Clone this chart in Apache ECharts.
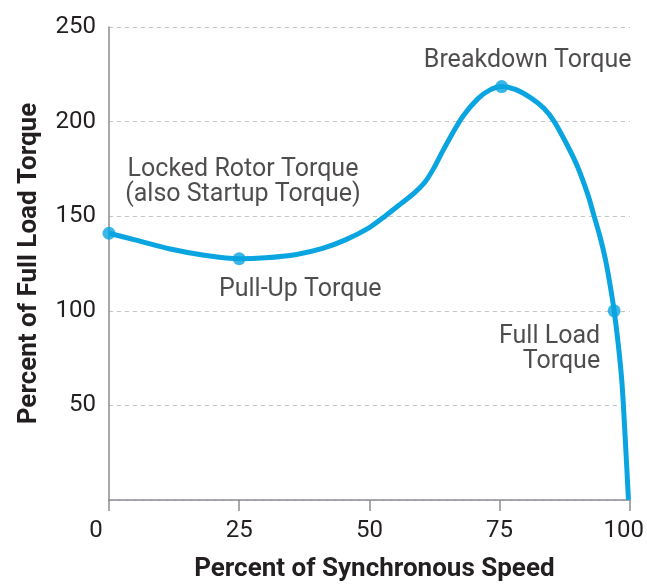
<!DOCTYPE html>
<html>
<head>
<meta charset="utf-8">
<script src="https://cdn.jsdelivr.net/npm/echarts@6/dist/echarts.min.js"></script>
<style>
  html, body { margin: 0; padding: 0; background: #fff; }
  #chart { width: 647px; height: 587px; }
</style>
</head>
<body>
<div id="chart"></div>
<script>
// torque curve
const speed = [0, 5, 12, 18, 25, 30, 36, 41, 45.4, 50, 53, 56, 58.7, 60.8, 62.5, 64, 66, 68, 70.8, 73, 75.4, 78, 81, 83.5, 85.5, 88, 90, 92, 93, 94.3, 95.3, 96.2, 97, 97.8, 98.5, 99.1, 99.75]
const torque = [141, 137.5, 132.5, 129.5, 127.5, 128, 129.8, 133, 137.5, 144, 150, 156.5, 162.5, 168.5, 176, 184, 194, 203, 212, 216.5, 218.5, 217, 212.5, 207, 200, 187.5, 176, 161, 151.5, 139, 127.5, 114, 100, 82, 62, 34, 0]

// marked points
const pointNames = ['Locked Rotor Torque\n(also Startup Torque)', 'Pull-Up Torque', 'Breakdown Torque', 'Full Load\nTorque']
const pointSpeed = [0, 25, 75.4, 97]
const pointTorque = [141, 127.5, 218.5, 100]

const xTicks = [0, 25, 50, 75, 100]
const yTicks = [0, 50, 100, 150, 200, 250]

const blue = '#0aa5e1'
const font = 'Roboto'
const ink = '#231f20'

const chart = echarts.init(document.getElementById('chart'))

const labelPlace = [
  { align: 'center', offset: [134, -51] },
  { align: 'center', offset: [61, 31] },
  { align: 'center', offset: [26, -26] },
  { align: 'right', offset: [-14, 38] }
]

const option = {
  animation: false,
  grid: { left: 109, right: 14, top: 27, bottom: 85 },
  xAxis: {
    type: 'value',
    min: xTicks[0],
    max: xTicks[xTicks.length - 1],
    interval: 25,
    name: 'Percent of Synchronous Speed',
    nameLocation: 'middle',
    nameGap: 56,
    nameTextStyle: { fontFamily: font, fontWeight: 'bold', fontSize: 26, color: ink, padding: [0, 0, 0, 10] },
    axisLine: { lineStyle: { color: '#8a8d91', width: 1.5 } },
    axisTick: { show: true, length: 11, lineStyle: { color: '#8a8d91', width: 1.5 } },
    axisLabel: {
      margin: 19,
      fontFamily: font,
      fontSize: 24,
      color: ink,
      formatter: function (v) {
        if (v === 0) return '{z|0}'
        if (v === 100) return '{h|100}'
        return v
      },
      rich: {
        z: { fontFamily: font, fontSize: 24, color: ink, padding: [0, 26, 0, 0] },
        h: { fontFamily: font, fontSize: 24, color: ink, padding: [0, 12, 0, 0] }
      }
    },
    splitLine: { show: false }
  },
  yAxis: {
    type: 'value',
    min: yTicks[0],
    max: yTicks[yTicks.length - 1],
    interval: 50,
    name: 'Percent of Full Load Torque',
    nameLocation: 'middle',
    nameGap: 67,
    nameTextStyle: { fontFamily: font, fontWeight: 'bold', fontSize: 26, color: ink },
    axisLine: { show: true, lineStyle: { color: '#8a8d91', width: 1.5 } },
    axisTick: { show: false },
    axisLabel: {
      margin: 13,
      fontFamily: font,
      fontSize: 24,
      color: ink,
      formatter: function (v) { return v === 0 ? '' : v }
    },
    splitLine: { show: true, lineStyle: { color: '#c4c4c4', type: [4, 4], width: 1 } }
  },
  series: [
    {
      type: 'line',
      data: speed.map((s, i) => [s, torque[i]]),
      smooth: 0.3,
      showSymbol: false,
      lineStyle: { color: blue, width: 5 },
      z: 2
    },
    {
      type: 'scatter',
      symbolSize: 13,
      itemStyle: { color: blue },
      z: 3,
      data: pointSpeed.map((s, i) => ({
        value: [s, pointTorque[i]],
        label: {
          show: true,
          formatter: pointNames[i],
          position: 'inside',
          align: labelPlace[i].align,
          verticalAlign: 'middle',
          offset: labelPlace[i].offset,
          fontFamily: font,
          fontSize: 25,
          lineHeight: 25,
          color: ink
        }
      }))
    }
  ]
}

chart.setOption(option)
</script>
</body>
</html>
